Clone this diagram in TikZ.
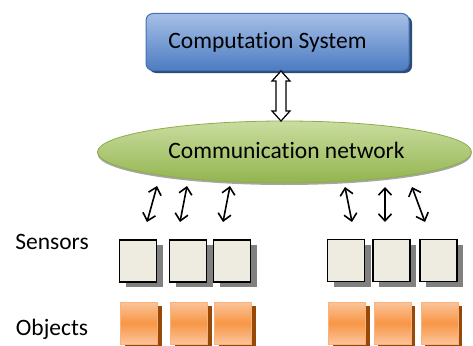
\documentclass[tikz,border=0pt]{standalone}
\usepackage{fontspec}
\setmainfont{Carlito}[Ligatures=CommonOff]
\usetikzlibrary{arrows.meta,shadows,calc,shapes.geometric}

\definecolor{blueTop}{HTML}{A6BFE6}
\definecolor{blueBot}{HTML}{4C7CC2}
\definecolor{blueEdge}{HTML}{4471B4}
\definecolor{blueShade}{HTML}{2E4C78}
\definecolor{greenTop}{HTML}{CADDA0}
\definecolor{greenBot}{HTML}{92B44E}
\definecolor{greenEdge}{HTML}{8DAE4A}
\definecolor{paper}{HTML}{EEECE1}
\definecolor{orangeLight}{HTML}{FBC49A}
\definecolor{orangeMid}{HTML}{F79646}
\definecolor{orangeEdge}{HTML}{FAB27C}
\definecolor{brownShade}{HTML}{984807}

\tikzset{
  lbl/.style={font=\fontsize{23.5}{28}\selectfont, inner sep=0pt, anchor=base},
  compbox/.style={rounded corners=7pt, draw=blueEdge, line width=1pt,
    top color=blueTop, bottom color=blueBot,
    minimum width=263pt, minimum height=57pt,
    general shadow={fill=blueShade, shadow xshift=3pt, shadow yshift=-2.5pt}},
  netshape/.style={ellipse, draw=greenEdge, line width=0.8pt,
    top color=greenTop, bottom color=greenBot,
    minimum width=374pt, minimum height=62pt,
    general shadow={fill=black!35, shadow xshift=0pt, shadow yshift=-2pt}},
  sensorbox/.style={draw=black, line width=1.5pt, fill=paper,
    minimum width=37pt, minimum height=42pt, inner sep=0pt,
    general shadow={fill=black!50, draw=none, shadow xshift=6pt, shadow yshift=-5pt}},
  objbox/.style={draw=orangeEdge, line width=1pt,
    top color=orangeLight, bottom color=orangeLight, middle color=orangeMid,
    minimum width=37pt, minimum height=42pt, inner sep=0pt,
    general shadow={fill=brownShade, draw=none, shadow xshift=4pt, shadow yshift=-4pt}},
  linkarrow/.style={line width=1.6pt,
    {Straight Barb[length=7pt,width=13pt]}-{Straight Barb[length=7pt,width=13pt]}},
  bigarrow/.style={draw=black, line width=1.2pt, fill=white, line join=miter},
}

\begin{document}
\begin{tikzpicture}[x=1pt,y=-1pt]
\useasboundingbox (0,0) rectangle (473,345);

% computation system
\node[compbox] (comp) at (277.5,42) {};
\node[lbl] (comptext) at (267.5,48.5) {Computation System};

% communication network
\node[netshape] (net) at (284.5,152) {};
\node[lbl] (nettext) at (286.5,158.5) {Communication network};

% hollow two-way arrow between system and network
\coordinate (bt) at (281,71);
\draw[bigarrow] (bt) -- ++(9,10) -- ++(-4,0) -- ++(0,30) -- ++(4,0)
  -- ++(-9,10) -- ++(-9,-10) -- ++(4,0) -- ++(0,-30) -- ++(-4,0) -- cycle;

% sensors
\node[sensorbox] (s1) at (138,261) {};
\node[sensorbox] (s2) at (188,261) {};
\node[sensorbox] (s3) at (232,261) {};
\node[sensorbox] (s4) at (346,260.5) {};
\node[sensorbox] (s5) at (391.5,260.5) {};
\node[sensorbox] (s6) at (438.5,260.5) {};

% objects
\node[objbox] (o1) at (139,323) {};
\node[objbox] (o2) at (189,323) {};
\node[objbox] (o3) at (233,323) {};
\node[objbox] (o4) at (347,323) {};
\node[objbox] (o5) at (392.5,323) {};
\node[objbox] (o6) at (439.5,323) {};

% row labels
\node[lbl] (sensorslbl) at (52,249) {Sensors};
\node[lbl] (objectslbl) at (52,335) {Objects};

% links between network and sensors
\coordinate (a1t) at (157,186); \coordinate (a1b) at (147,222);
\coordinate (a2t) at (187,186); \coordinate (a2b) at (180,222);
\coordinate (a3t) at (230,186); \coordinate (a3b) at (223,222);
\coordinate (a4t) at (345,187); \coordinate (a4b) at (352,222);
\coordinate (a5t) at (385,187); \coordinate (a5b) at (385,222);
\coordinate (a6t) at (412,187); \coordinate (a6b) at (425,222);
\foreach \i in {1,...,6} \draw[linkarrow] (a\i t) -- (a\i b);
\end{tikzpicture}
\end{document}
